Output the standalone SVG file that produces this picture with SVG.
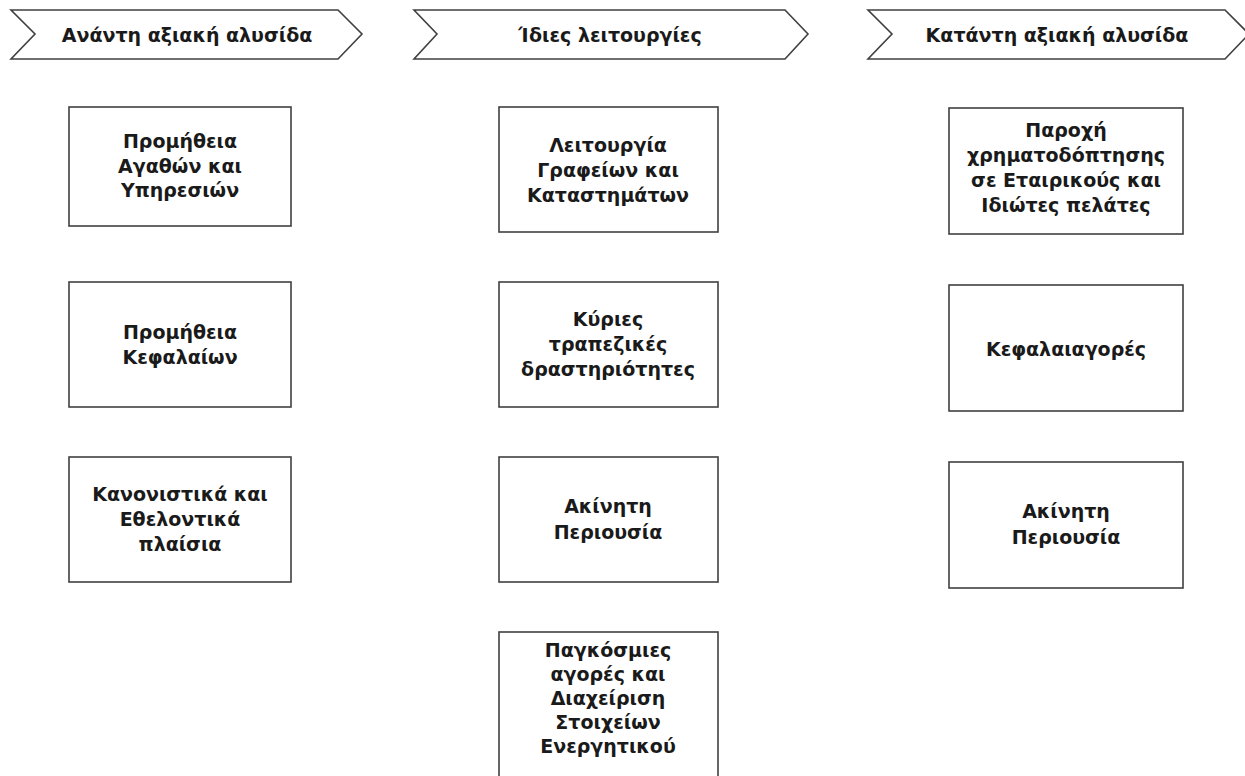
<svg xmlns="http://www.w3.org/2000/svg" width="1245" height="776" viewBox="0 0 1245 776">
<style>
.shape{fill:#ffffff;stroke:#404040;stroke-width:1.6}
.hd{font-family:"DejaVu Sans",sans-serif;font-weight:bold;font-size:19px;fill:#1a1a1a;text-anchor:middle}
.tx{font-family:"DejaVu Sans",sans-serif;font-weight:bold;font-size:19px;fill:#1a1a1a;text-anchor:middle}
</style>
<rect width="1245" height="776" fill="#ffffff"/>
<g id="header-upstream">
<polygon class="shape" points="11,10 338,10 362,34 338,59 11,59 35,34"/>
<text class="hd" x="187" y="41.5">Ανάντη αξιακή αλυσίδα</text>
</g>
<g id="header-own">
<polygon class="shape" points="414,10 785,10 808,34 785,59 414,59 437,34"/>
<text class="hd" x="610" y="41.5">Ίδιες λειτουργίες</text>
</g>
<g id="header-downstream">
<polygon class="shape" points="868,10 1225,10 1249,34 1225,59 868,59 892,34"/>
<text class="hd" x="1057" y="41.5">Κατάντη αξιακή αλυσίδα</text>
</g>
<g id="u1"><rect class="shape" x="69" y="107" width="222" height="119"/>
<text class="tx" x="180" y="148">Προμήθεια</text><text class="tx" x="180" y="172.5">Αγαθών και</text><text class="tx" x="180" y="197">Υπηρεσιών</text></g>
<g id="u2"><rect class="shape" x="69" y="282" width="222" height="125"/>
<text class="tx" x="180" y="339">Προμήθεια</text><text class="tx" x="180" y="364">Κεφαλαίων</text></g>
<g id="u3"><rect class="shape" x="69" y="457" width="222" height="125"/>
<text class="tx" x="180" y="501">Κανονιστικά και</text><text class="tx" x="180" y="526">Εθελοντικά</text><text class="tx" x="180" y="551">πλαίσια</text></g>
<g id="o1"><rect class="shape" x="499" y="107" width="219" height="125"/>
<text class="tx" x="608" y="151.5">Λειτουργία</text><text class="tx" x="608" y="176.5">Γραφείων και</text><text class="tx" x="608" y="201.5">Καταστημάτων</text></g>
<g id="o2"><rect class="shape" x="499" y="282" width="219" height="125"/>
<text class="tx" x="608" y="326">Κύριες</text><text class="tx" x="608" y="351">τραπεζικές</text><text class="tx" x="608" y="376">δραστηριότητες</text></g>
<g id="o3"><rect class="shape" x="499" y="457" width="219" height="125"/>
<text class="tx" x="608" y="513">Ακίνητη</text><text class="tx" x="608" y="539">Περιουσία</text></g>
<g id="o4"><rect class="shape" x="499" y="632" width="219" height="160"/>
<text class="tx" x="608" y="657">Παγκόσμιες</text><text class="tx" x="608" y="681">αγορές και</text><text class="tx" x="608" y="705">Διαχείριση</text><text class="tx" x="608" y="729">Στοιχείων</text><text class="tx" x="608" y="753">Ενεργητικού</text></g>
<g id="d1"><rect class="shape" x="949" y="108" width="234" height="126"/>
<text class="tx" x="1066" y="137">Παροχή</text><text class="tx" x="1066" y="162">χρηματοδόπτησης</text><text class="tx" x="1066" y="187">σε Εταιρικούς και</text><text class="tx" x="1066" y="212">Ιδιώτες πελάτες</text></g>
<g id="d2"><rect class="shape" x="949" y="285" width="234" height="126"/>
<text class="tx" x="1066" y="356">Κεφαλαιαγορές</text></g>
<g id="d3"><rect class="shape" x="949" y="462" width="234" height="126"/>
<text class="tx" x="1066" y="518">Ακίνητη</text><text class="tx" x="1066" y="544">Περιουσία</text></g>
<g id="connectors"></g>
</svg>
